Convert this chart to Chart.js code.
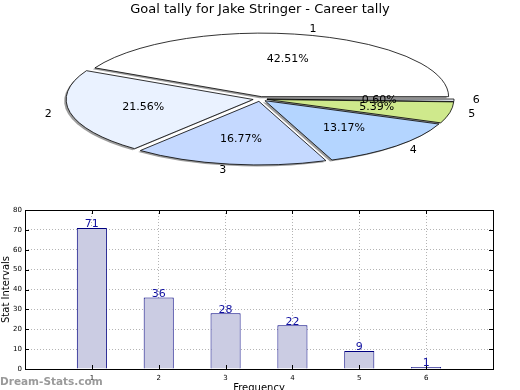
<!DOCTYPE html>
<html>
<head>
<meta charset="utf-8">
<script src="https://cdn.jsdelivr.net/npm/chart.js@4.4.0/dist/chart.umd.min.js"></script>
<style>
  html, body { margin: 0; padding: 0; background: #fff; overflow: hidden; width: 520px; height: 390px; }
  #pie { position: absolute; left: 0; top: 0; }
  #barras { position: absolute; left: 0; top: 190px; }
  #marca { position: absolute; left: 0; top: 375px; font: bold 10.5px 'DejaVu Sans'; line-height: 12px; color: #9a9a9a; }
</style>
</head>
<body>
<canvas id="pie" width="520" height="200"></canvas>
<canvas id="barras" width="520" height="210"></canvas>
<div id="marca">Dream-Stats.com</div>
<script>
// Datos del gráfico
const titulo = 'Goal tally for Jake Stringer - Career tally';
const categorias = ['1', '2', '3', '4', '5', '6'];
const goles = [71, 36, 28, 22, 9, 1];
const coloresPie = ['#ffffff', '#eaf2ff', '#c5d9ff', '#b4d5ff', '#cfe98c', '#f2f6ff'];
const ticksY = [0, 10, 20, 30, 40, 50, 60, 70, 80];
const ticksX = [0, 1, 2, 3, 4, 5, 6, 7];

const ESCALA_Y = 0.34;   // aplasta el círculo en elipse
const EXPLOSION = 7;     // separación de cada porción
const FUENTE = 'DejaVu Sans';

// Dibuja el pie como elipse usando la geometría calculada por chart.js
const pieElipse = {
  id: 'pieElipse',
  beforeDatasetDraw() { return false; },
  afterDraw(chart) {
    const ctx = chart.ctx;
    const meta = chart.getDatasetMeta(0);
    const ds = chart.data.datasets[0];
    const total = ds.data.reduce((a, b) => a + b, 0);

    const porciones = meta.data.map((arc, i) => {
      const medio = (arc.startAngle + arc.endAngle) / 2;
      return {
        arc,
        medio,
        cx: arc.x + EXPLOSION * Math.cos(medio),
        cy: arc.y + EXPLOSION * ESCALA_Y * Math.sin(medio),
        r: arc.outerRadius,
        color: ds.backgroundColor[i],
        valor: ds.data[i],
        etiqueta: chart.data.labels[i],
      };
    });

    const trazar = (p, dx, dy) => {
      ctx.beginPath();
      ctx.moveTo(p.cx + dx, p.cy + dy);
      ctx.ellipse(p.cx + dx, p.cy + dy, p.r, p.r * ESCALA_Y, 0, p.arc.startAngle, p.arc.endAngle);
      ctx.closePath();
    };

    ctx.save();
    // sombras
    porciones.forEach(p => {
      trazar(p, -2, 1.5);
      ctx.fillStyle = 'rgba(60,60,60,0.5)';
      ctx.fill();
    });
    // porciones
    porciones.forEach(p => {
      trazar(p, 0, 0);
      ctx.fillStyle = p.color;
      ctx.fill();
      ctx.lineWidth = 0.8;
      ctx.strokeStyle = '#000';
      ctx.stroke();
    });
    // textos
    ctx.fillStyle = '#000';
    ctx.font = '11px ' + FUENTE;
    ctx.textBaseline = 'middle';
    porciones.forEach(p => {
      const c = Math.cos(p.medio), s = Math.sin(p.medio);
      const lx = p.cx + 1.1 * p.r * c;
      const ly = p.cy + 1.1 * p.r * ESCALA_Y * s;
      ctx.textAlign = lx > p.arc.x ? 'left' : 'right';
      ctx.fillText(p.etiqueta, lx, ly);
      ctx.textAlign = 'center';
      ctx.fillText((p.valor / total * 100).toFixed(2) + '%', p.cx + 0.6 * p.r * c, p.cy + 0.6 * p.r * ESCALA_Y * s);
    });
    ctx.restore();
  },
};

new Chart(document.getElementById('pie'), {
  type: 'pie',
  data: {
    labels: categorias.slice().reverse(),
    datasets: [{
      data: goles.slice().reverse(),
      backgroundColor: coloresPie.slice().reverse(),
      radius: 187,
      rotation: 90,
      borderWidth: 0,
      clip: false,
    }],
  },
  options: {
    responsive: false,
    animation: false,
    events: [],
    layout: { padding: { bottom: 19.6 } },
    plugins: {
      legend: { display: false },
      tooltip: { enabled: false },
      title: {
        display: true,
        text: titulo,
        color: '#000',
        font: { family: FUENTE, size: 13, weight: 'normal', lineHeight: 1.2 },
        padding: { top: 2, bottom: 0 },
      },
    },
  },
  plugins: [pieElipse],
});

// Marco, marcas internas y valores sobre las barras
const marcoBarras = {
  id: 'marcoBarras',
  afterDraw(chart) {
    const ctx = chart.ctx;
    const { left, right, top, bottom } = chart.chartArea;
    const sx = chart.scales.x, sy = chart.scales.y;
    ctx.save();
    ctx.strokeStyle = '#000';
    ctx.lineWidth = 1;
    ctx.beginPath();
    ticksX.forEach(v => {
      const x = Math.round(sx.getPixelForValue(v)) + 0.5;
      ctx.moveTo(x, bottom); ctx.lineTo(x, bottom - 4);
      ctx.moveTo(x, top); ctx.lineTo(x, top + 4);
    });
    ticksY.forEach(v => {
      const y = Math.round(sy.getPixelForValue(v)) + 0.5;
      ctx.moveTo(left, y); ctx.lineTo(left + 4, y);
      ctx.moveTo(right, y); ctx.lineTo(right - 4, y);
    });
    ctx.stroke();
    ctx.strokeRect(Math.round(left) + 0.5, Math.round(top) + 0.5, Math.round(right - left), Math.round(bottom - top));

    const meta = chart.getDatasetMeta(0);
    ctx.fillStyle = '#1010a0';
    ctx.font = '11px ' + FUENTE;
    ctx.textAlign = 'center';
    ctx.textBaseline = 'bottom';
    meta.data.forEach((bar, i) => {
      ctx.fillText(String(goles[i]), bar.x, bar.y + 2);
    });
    ctx.restore();
  },
};

const colorRejilla = (ctx, min, max) =>
  (ctx.tick && ctx.tick.value > min && ctx.tick.value < max) ? '#b4b4b4' : 'rgba(0,0,0,0)';

new Chart(document.getElementById('barras'), {
  type: 'bar',
  data: {
    datasets: [{
      data: categorias.map((c, i) => ({ x: Number(c), y: goles[i] })),
      backgroundColor: '#cbcce3',
      borderColor: '#000080',
      borderWidth: 1,
      barPercentage: 0.45,
      categoryPercentage: 1,
    }],
  },
  options: {
    responsive: false,
    animation: false,
    events: [],
    layout: { padding: { top: 20, right: 27, left: 0, bottom: 0 } },
    scales: {
      x: {
        type: 'linear',
        min: 0,
        max: 7,
        offset: false,
        afterFit: (s) => { s.height = 31; },
        afterBuildTicks: (s) => { s.ticks = ticksX.map(v => ({ value: v })); },
        ticks: {
          autoSkip: false,
          padding: 5,
          color: '#000',
          font: { family: FUENTE, size: 7 },
          callback: (v) => (v >= 1 && v <= 6) ? String(v) : '',
        },
        grid: { color: (ctx) => colorRejilla(ctx, 0, 7), drawTicks: false, offset: false },
        border: { display: false, dash: [1, 2] },
        title: {
          display: true,
          text: 'Frequency',
          color: '#000',
          font: { family: FUENTE, size: 10, lineHeight: 1.2 },
          padding: { top: 0, bottom: 5.4 },
        },
      },
      y: {
        min: 0,
        max: 80,
        afterFit: (s) => { s.width = 25; },
        afterBuildTicks: (s) => { s.ticks = ticksY.map(v => ({ value: v })); },
        ticks: {
          padding: 3,
          color: '#000',
          font: { family: FUENTE, size: 7 },
        },
        grid: { color: (ctx) => colorRejilla(ctx, 0, 80), drawTicks: false },
        border: { display: false, dash: [1, 2] },
        title: {
          display: true,
          text: 'Stat Intervals',
          color: '#000',
          font: { family: FUENTE, size: 10, lineHeight: 1.2 },
          padding: { top: 0, bottom: 0 },
        },
      },
    },
    plugins: {
      legend: { display: false },
      tooltip: { enabled: false },
    },
  },
  plugins: [marcoBarras],
});
</script>
</body>
</html>
